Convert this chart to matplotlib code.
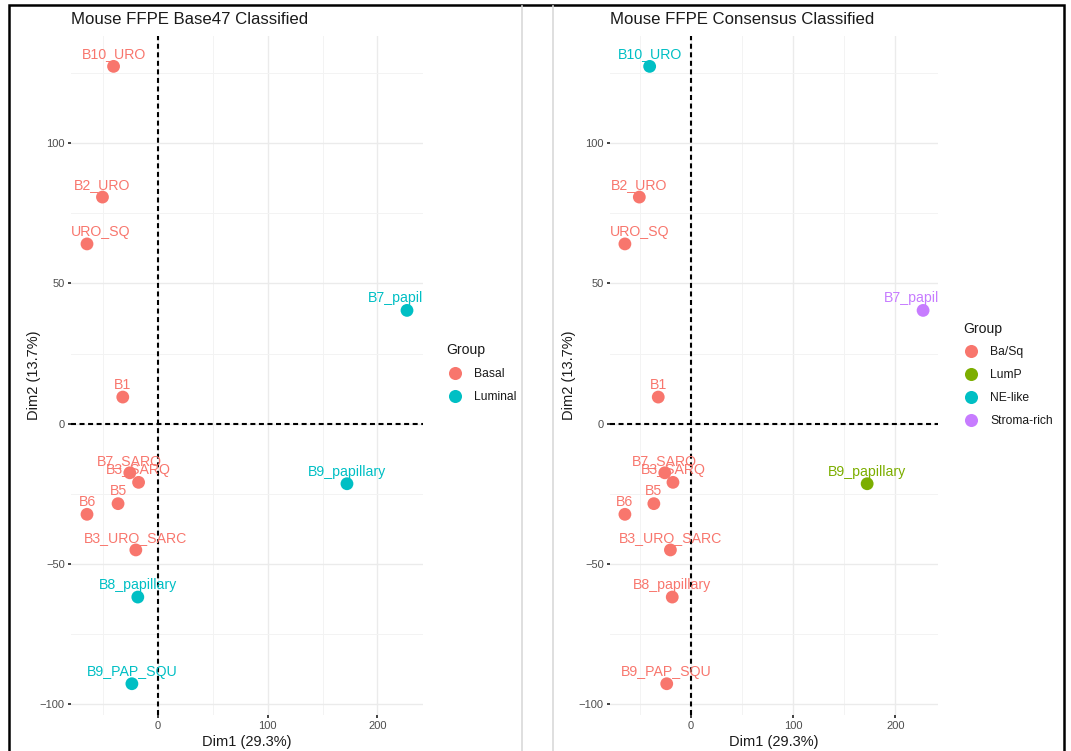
import matplotlib
matplotlib.use("Agg")
import matplotlib.pyplot as plt
from matplotlib.lines import Line2D
from matplotlib.patches import Rectangle

plt.rcParams['font.family'] = ['Liberation Sans', 'DejaVu Sans']

# ---------------- data ----------------
samples = ["B10_URO", "B2_URO", "URO_SQ", "B7_papillary", "B1", "B7_SARO",
           "B3_SARQ", "B5", "B6", "B3_URO_SARC", "B9_papillary",
           "B8_papillary", "B9_PAP_SQU"]
dim1 = [-40.4, -50.5, -64.6, 227.0, -32.0, -25.6, -17.6, -36.3, -64.6,
        -20.1, 172.3, -18.3, -23.7]
dim2 = [127.4, 80.8, 64.1, 40.4, 9.5, -17.5, -20.9, -28.5, -32.3,
        -45.0, -21.4, -61.8, -92.7]
group_base47 = ["Basal", "Basal", "Basal", "Luminal", "Basal", "Basal",
                "Basal", "Basal", "Basal", "Basal", "Luminal",
                "Luminal", "Luminal"]
group_consensus = ["NE-like", "Ba/Sq", "Ba/Sq", "Stroma-rich", "Ba/Sq",
                   "Ba/Sq", "Ba/Sq", "Ba/Sq", "Ba/Sq", "Ba/Sq", "LumP",
                   "Ba/Sq", "Ba/Sq"]
levels_base47 = ["Basal", "Luminal"]
levels_consensus = ["Ba/Sq", "LumP", "NE-like", "Stroma-rich"]
colors_base47 = {"Basal": "#F8766D", "Luminal": "#00BFC4"}
colors_consensus = {"Ba/Sq": "#F8766D", "LumP": "#7CAE00",
                    "NE-like": "#00BFC4", "Stroma-rich": "#C77CFF"}
titles = ["Mouse FFPE Base47 Classified", "Mouse FFPE Consensus Classified"]
xlabel = "Dim1 (29.3%)"
ylabel = "Dim2 (13.7%)"
xticks = [0, 100, 200]
yticks = [-100, -50, 0, 50, 100]
xminor = [-50, 50, 150]
yminor = [-75, -25, 25, 75, 125]

# ---------------- figure ----------------
W, H = 1071, 751
fig = plt.figure(figsize=(W / 100, H / 100), dpi=100)
fig.patch.set_facecolor("white")


def px_rect(l, t, r, b):
    return [l / W, 1 - b / H, (r - l) / W, (b - t) / H]


# ggplot-like limits (5% expansion)
xr = max(dim1) - min(dim1)
yr = max(dim2) - min(dim2)
xlim = (min(dim1) - 0.05 * xr, max(dim1) + 0.05 * xr)
ylim = (min(dim2) - 0.05 * yr, max(dim2) + 0.05 * yr)

panels = [
    dict(rect=(71, 35.5, 423, 714.6), groups=group_base47, levels=levels_base47,
         colors=colors_base47, title=titles[0], legpos=(446.5, 343), ylab_x=41),
    dict(rect=(610, 35.5, 938, 714.6), groups=group_consensus, levels=levels_consensus,
         colors=colors_consensus, title=titles[1], legpos=(963, 321.5), ylab_x=576),
]

renderer = fig.canvas.get_renderer()

for p in panels:
    l, t, r, b = p["rect"]
    ax = fig.add_axes(px_rect(l, t, r, b))
    ax.set_xlim(*xlim)
    ax.set_ylim(*ylim)
    for s in ax.spines.values():
        s.set_visible(False)
    ax.set_xticks(xticks)
    ax.set_yticks(yticks)
    ax.set_xticks(xminor, minor=True)
    ax.set_yticks(yminor, minor=True)
    ax.grid(True, which="major", color="#EBEBEB", lw=1.0, zorder=0)
    ax.grid(True, which="minor", color="#F3F3F3", lw=0.7, zorder=0)
    ax.set_axisbelow(True)
    ax.tick_params(which="major", length=2.5, width=1.3, color="#333333",
                   labelsize=8, labelcolor="#4D4D4D", pad=2)
    ax.tick_params(which="minor", length=0)

    ax.axhline(0, color="black", lw=1.5, ls=(0, (2.4, 1.7)), zorder=2)
    ax.axvline(0, color="black", lw=1.5, ls=(0, (2.4, 1.7)), zorder=2)

    cols = [p["colors"][g] for g in p["groups"]]
    ax.scatter(dim1, dim2, s=85, c=cols, edgecolors="none", zorder=3)
    for name, x, y, c in zip(samples, dim1, dim2, cols):
        ann = ax.annotate(name, (x, y), xytext=(0, 8.8), textcoords="offset points",
                          ha="center", va="center", color=c, fontsize=10.2,
                          zorder=4, annotation_clip=False)
        ann.set_clip_on(True)
        ann.set_clip_box(ax.bbox)
        # keep labels inside the panel on the left side (repel-like)
        bb = ann.get_window_extent(renderer)
        ax_left = ax.bbox.x0
        if bb.x0 < ax_left:
            shift = (ax_left - bb.x0) * 72 / fig.dpi
            ann.set_position((shift, 8.8))

    ax.set_xlabel(xlabel, fontsize=10.5, color="#1A1A1A", labelpad=3)
    ax.yaxis.set_label_coords((p["ylab_x"] - l) / (r - l), 0.5)
    ax.set_ylabel(ylabel, fontsize=10.5, color="#1A1A1A")
    fig.text(l / W, 1 - 19 / H, p["title"], fontsize=12.1, color="#1A1A1A",
             ha="left", va="center")

    handles = [Line2D([], [], marker="o", ls="", markersize=9.4,
                      markerfacecolor=p["colors"][g], markeredgecolor="none")
               for g in p["levels"]]
    lx, ly = p["legpos"]
    leg = ax.legend(handles, p["levels"], title="Group", loc="upper left",
                    bbox_to_anchor=(lx / W, 1 - ly / H), bbox_transform=fig.transFigure,
                    frameon=False, fontsize=8.7, title_fontsize=10.1,
                    handlelength=1.4, handletextpad=0.85, labelspacing=0.9,
                    borderpad=0, borderaxespad=0, alignment="left")
    for txt in leg.get_texts():
        txt.set_color("#1A1A1A")
    leg.get_title().set_color("#1A1A1A")

# screenshot decorations
fig.add_artist(Line2D([522 / W, 522 / W], [0, 1 - 6 / H], transform=fig.transFigure,
                      color="#D9D9D9", lw=1.2))
fig.add_artist(Line2D([553 / W, 553 / W], [0, 1 - 6 / H], transform=fig.transFigure,
                      color="#D9D9D9", lw=1.2))
fig.add_artist(Rectangle((9 / W, -0.05), (1064 - 9) / W, 1.05 - 5 / H,
                         transform=fig.transFigure, fill=False,
                         edgecolor="black", lw=1.8))

fig.savefig("out.png", dpi=100)
